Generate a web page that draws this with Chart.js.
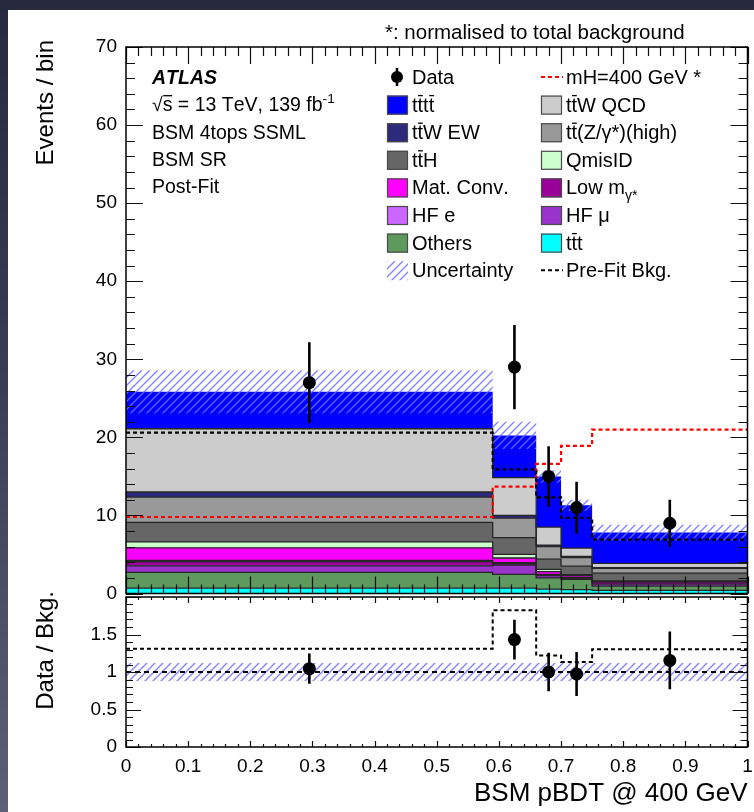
<!DOCTYPE html>
<html>
<head>
<meta charset="utf-8">
<script src="https://cdn.jsdelivr.net/npm/chart.js@4.4.1/dist/chart.umd.min.js"></script>
<style>
  html, body { margin: 0; padding: 0; width: 754px; height: 812px; overflow: hidden;
    background: linear-gradient(180deg, #272a3e 0%, #393c52 45%, #5e6175 100%); }
  #sheet { position: absolute; left: 8px; top: 10px; width: 746px; height: 802px; background: #fff; }
  canvas { position: absolute; left: 0; }
  #main { top: 0; }
  #ratio { top: 570px; }
</style>
</head>
<body>
<div id="sheet"></div>
<canvas id="main" width="754" height="600"></canvas>
<canvas id="ratio" width="754" height="242"></canvas>
<script>
// ---- binning and observed events ----
const binEdges = [0, 0.59, 0.66, 0.70, 0.75, 1.0];
const dataCounts = [27, 29, 15, 11, 9];

// ---- post-fit background components (bottom of the stack first) ----
const tttBkg    = [0.7, 0.7, 0.55, 0.5, 0.4];
const othersBkg = [2.0, 1.75, 1.45, 1.3, 0.55];
const hfMuBkg   = [0.85, 1.2, 0.3, 0.15, 0.25];
const lowMgBkg  = [0.55, 0.2, 0.1, 0.05, 0.3];
const hfEBkg    = [0.15, 0.1, 0.05, 0.05, 0.02];
const matConv   = [1.6, 0.6, 0.35, 0.25, 0.05];
const qmisID    = [0.75, 0.45, 0.3, 0.1, 0.05];
const ttHBkg    = [2.5, 2.15, 1.3, 1.1, 1.0];
const ttZBkg    = [3.25, 2.5, 1.6, 1.1, 0.6];
const ttWEW     = [0.65, 0.35, 0.2, 0.15, 0.1];
const ttWQCD    = [8.1, 4.85, 2.3, 1.05, 0.55];
const ttttBkg   = [4.75, 5.4, 6.5, 5.5, 3.93];

// ---- uncertainties, pre-fit total and signal ----
const bkgUnc     = [2.75, 1.75, 0.8, 0.7, 1.0];
const ratioUnc   = [0.12, 0.12, 0.12, 0.12, 0.12];
const prefitBkg  = [20.6, 15.9, 12.3, 9.7, 6.9];
const signal400  = [9.8, 13.7, 16.6, 18.9, 21.0];

// ---- axis ranges / ticks ----
const mainYRange = [0, 70];
const ratioYRange = [0, 2];
const xRange = [0, 1];

const FONT = '"Liberation Sans", Arial, Helvetica, sans-serif';
const B = '\u0304'; // overbar marker

const stackDefs = [
  { label: 'tt' + B + 't',          values: tttBkg,    color: '#00ffff' },
  { label: 'Others',                values: othersBkg, color: '#5e995e' },
  { label: 'HF \u03bc',             values: hfMuBkg,   color: '#9933cc' },
  { label: 'Low m_{\u03b3*}',       values: lowMgBkg,  color: '#990099' },
  { label: 'HF e',                  values: hfEBkg,    color: '#cc66ff' },
  { label: 'Mat. Conv.',            values: matConv,   color: '#ff00ff' },
  { label: 'QmisID',                values: qmisID,    color: '#ccffcc' },
  { label: 'tt' + B + 'H',          values: ttHBkg,    color: '#666666' },
  { label: 'tt' + B + '(Z/\u03b3*)(high)', values: ttZBkg, color: '#999999' },
  { label: 'tt' + B + 'W EW',       values: ttWEW,     color: '#2d2a7c' },
  { label: 'tt' + B + 'W QCD',      values: ttWQCD,    color: '#cccccc' },
  { label: 'tt' + B + 'tt' + B,     values: ttttBkg,   color: '#0000ff', noEdge: true }
];

const byLabel = {};
stackDefs.forEach(d => byLabel[d.label] = d);

// legend layout: two columns of entries
const legendMid = ['Data', 'tt' + B + 'tt' + B, 'tt' + B + 'W EW', 'tt' + B + 'H', 'Mat. Conv.', 'HF e', 'Others', 'Uncertainty'];
const legendRight = ['mH=400 GeV *', 'tt' + B + 'W QCD', 'tt' + B + '(Z/\u03b3*)(high)', 'QmisID', 'Low m_{\u03b3*}', 'HF \u03bc', 'tt' + B + 't', 'Pre-Fit Bkg.'];
const infoLines = ['\u221as' + B + ' = 13 TeV, 139 fb^{-1}', 'BSM 4tops SSML', 'BSM SR', 'Post-Fit'];

// ---- helpers ----
const binCenters = dataCounts.map((_, i) => (binEdges[i] + binEdges[i + 1]) / 2);
const histPoints = vals => binEdges.map((e, i) => ({ x: e, y: vals[Math.min(i, vals.length - 1)] }));
const totalBkg = dataCounts.map((_, i) => stackDefs.reduce((s, d) => s + d.values[i], 0));

function hatchPattern() {
  const c = document.createElement('canvas');
  c.width = 8; c.height = 8;
  const g = c.getContext('2d');
  g.strokeStyle = 'rgba(110,110,255,0.85)';
  g.lineWidth = 1.4;
  g.beginPath();
  g.moveTo(0, 8); g.lineTo(8, 0);
  g.moveTo(-2, 2); g.lineTo(2, -2);
  g.moveTo(6, 10); g.lineTo(10, 6);
  g.stroke();
  return g.createPattern(c, 'repeat');
}
const HATCH = hatchPattern();

// rich text: "_{..}" subscript, "^{..}" superscript, U+0304 puts a bar over the preceding glyph
function drawRich(ctx, str, x, y, size, weight) {
  weight = weight || 'normal';
  const segs = [];
  let i = 0;
  while (i < str.length) {
    const c = str[i];
    if ((c === '^' || c === '_') && str[i + 1] === '{') {
      const end = str.indexOf('}', i);
      segs.push({ text: str.slice(i + 2, end), mode: c === '^' ? 'sup' : 'sub' });
      i = end + 1;
    } else if (c === B) {
      if (segs.length) segs[segs.length - 1].bar = true;
      i++;
    } else {
      segs.push({ text: c, mode: 'n' });
      i++;
    }
  }
  let cx = x;
  ctx.textAlign = 'left';
  ctx.textBaseline = 'alphabetic';
  for (const s of segs) {
    const fs = s.mode === 'n' ? size : size * 0.7;
    const dy = s.mode === 'sup' ? -0.42 * size : s.mode === 'sub' ? 0.28 * size : 0;
    ctx.font = `${weight} ${fs}px ${FONT}`;
    ctx.fillText(s.text, cx, y + dy);
    const w = ctx.measureText(s.text).width;
    if (s.bar) {
      ctx.save();
      ctx.lineWidth = 1.3;
      ctx.strokeStyle = ctx.fillStyle;
      ctx.beginPath();
      ctx.moveTo(cx + 0.5, y - 0.8 * size);
      ctx.lineTo(cx + w - 0.3, y - 0.8 * size);
      ctx.stroke();
      ctx.restore();
    }
    cx += w;
  }
  return cx - x;
}

// frame with inward ROOT-style ticks on all four sides
function frameTicks(chart, cfg) {
  const { ctx, chartArea: a } = chart;
  const xs = chart.scales.x, ys = chart.scales.y;
  ctx.save();
  ctx.strokeStyle = '#111';
  ctx.lineWidth = 1.2;
  ctx.beginPath();
  const nx = Math.round((xs.max - xs.min) / cfg.xStep);
  for (let k = 0; k <= nx; k++) {
    const px = Math.round(xs.getPixelForValue(xs.min + k * cfg.xStep)) + 0.5;
    const L = k % cfg.xEvery === 0 ? cfg.xMaj : cfg.xMin;
    ctx.moveTo(px, a.bottom); ctx.lineTo(px, a.bottom - L);
    ctx.moveTo(px, a.top); ctx.lineTo(px, a.top + L * cfg.topScale);
  }
  const ny = Math.round((ys.max - ys.min) / cfg.yStep);
  for (let k = 0; k <= ny; k++) {
    const py = Math.round(ys.getPixelForValue(ys.min + k * cfg.yStep)) + 0.5;
    const L = k % cfg.yEvery === 0 ? cfg.yMaj : cfg.yMin;
    ctx.moveTo(a.left, py); ctx.lineTo(a.left + L, py);
    ctx.moveTo(a.right, py); ctx.lineTo(a.right - L, py);
  }
  ctx.stroke();
  ctx.lineWidth = 1.5;
  ctx.strokeStyle = '#000';
  ctx.strokeRect(a.left, a.top, a.right - a.left, a.bottom - a.top);
  ctx.restore();
}

function errorBars(chart, dsIndex, errs) {
  const meta = chart.getDatasetMeta(dsIndex);
  const ys = chart.scales.y;
  const { ctx } = chart;
  ctx.save();
  ctx.strokeStyle = '#000';
  ctx.lineWidth = 2.6;
  ctx.beginPath();
  meta.data.forEach((pt, i) => {
    const v = chart.data.datasets[dsIndex].data[i].y;
    ctx.moveTo(pt.x, ys.getPixelForValue(v + errs[i]));
    ctx.lineTo(pt.x, ys.getPixelForValue(v - errs[i]));
  });
  ctx.stroke();
  ctx.restore();
}

function verticalTitle(ctx, text, x, yEnd, size) {
  ctx.save();
  ctx.translate(x, yEnd);
  ctx.rotate(-Math.PI / 2);
  ctx.font = `${size}px ${FONT}`;
  ctx.fillStyle = '#000';
  ctx.textAlign = 'right';
  ctx.textBaseline = 'middle';
  ctx.fillText(text, 0, 0);
  ctx.restore();
}

const tickText = v => String(Math.round(v * 10) / 10);

// ---------------- main panel ----------------
let running = [0, 0, 0, 0, 0];
const stackDatasets = stackDefs.map((d, k) => {
  running = running.map((r, i) => r + d.values[i]);
  return {
    type: 'line', label: d.label, data: histPoints(running), stepped: true,
    fill: k === 0 ? 'origin' : '-1', backgroundColor: d.color,
    borderColor: d.noEdge ? d.color : '#262626', borderWidth: d.noEdge ? 0 : 1.3,
    pointRadius: 0, order: 10
  };
});

const mainDatasets = stackDatasets.concat([
  { type: 'line', label: 'unc-low', data: histPoints(totalBkg.map((t, i) => t - bkgUnc[i])),
    stepped: true, fill: false, borderWidth: 0, pointRadius: 0, order: 5 },
  { type: 'line', label: 'Uncertainty', data: histPoints(totalBkg.map((t, i) => t + bkgUnc[i])),
    stepped: true, fill: '-1', backgroundColor: HATCH, borderWidth: 0, pointRadius: 0, order: 5 },
  { type: 'line', label: 'Pre-Fit Bkg.', data: histPoints(prefitBkg), stepped: true, fill: false,
    borderColor: '#000', borderWidth: 2.2, borderDash: [4, 3], pointRadius: 0, order: 2 },
  { type: 'line', label: 'mH=400 GeV *', data: histPoints(signal400), stepped: true, fill: false,
    borderColor: '#ff0000', borderWidth: 2.2, borderDash: [4, 3], pointRadius: 0, order: 2 },
  { type: 'scatter', label: 'Data', data: dataCounts.map((v, i) => ({ x: binCenters[i], y: v })),
    pointRadius: 6.5, pointBackgroundColor: '#000', pointBorderColor: '#000', pointBorderWidth: 0, order: 0 }
]);
const dataIdx = mainDatasets.length - 1;

const mainDecor = {
  id: 'mainDecor',
  afterDatasetsDraw(chart) {
    errorBars(chart, dataIdx, dataCounts.map(Math.sqrt));
    frameTicks(chart, { xStep: 0.02, xEvery: 5, xMaj: 17, xMin: 9, topScale: 1,
                        yStep: 2, yEvery: 5, yMaj: 17, yMin: 9 });
  },
  afterDraw(chart) {
    const { ctx } = chart;
    ctx.save();
    ctx.fillStyle = '#000';
    verticalTitle(ctx, 'Events / bin', 46, 40, 24);
    ctx.fillStyle = '#000';
    drawRich(ctx, '*: normalised to total background', 385, 39, 20.5);

    // experiment label block
    const rowY = k => 84 + k * 27.3;
    ctx.fillStyle = '#000';
    drawRich(ctx, 'ATLAS', 152, rowY(0), 19.5, 'italic bold');
    infoLines.forEach((t, k) => drawRich(ctx, t, 152, rowY(k + 1), 19.5));

    const lrow = k => 77 + k * 27.6;
    const drawEntry = (label, boxX, k) => {
      const cy = lrow(k);
      const textX = boxX + 25;
      if (label === 'Data') {
        ctx.fillStyle = '#000';
        ctx.beginPath(); ctx.arc(boxX + 10, cy, 6, 0, Math.PI * 2); ctx.fill();
        ctx.lineWidth = 2.5; ctx.strokeStyle = '#000';
        ctx.beginPath(); ctx.moveTo(boxX + 10, cy - 9); ctx.lineTo(boxX + 10, cy + 9); ctx.stroke();
      } else if (label === 'Uncertainty') {
        ctx.fillStyle = HATCH;
        ctx.fillRect(boxX, cy - 9, 21, 19);
      } else if (label === 'mH=400 GeV *' || label === 'Pre-Fit Bkg.') {
        ctx.save();
        ctx.strokeStyle = label === 'Pre-Fit Bkg.' ? '#000' : '#ff0000';
        ctx.lineWidth = 2; ctx.setLineDash([4, 3]);
        ctx.beginPath(); ctx.moveTo(boxX, cy); ctx.lineTo(boxX + 22, cy); ctx.stroke();
        ctx.restore();
      } else {
        const d = byLabel[label];
        ctx.fillStyle = d.color;
        ctx.fillRect(boxX, cy - 9, 21, 19);
        ctx.lineWidth = 1.2; ctx.strokeStyle = '#4a4a4a';
        ctx.strokeRect(boxX + 0.5, cy - 8.5, 20, 18);
      }
      ctx.fillStyle = '#000';
      drawRich(ctx, label, textX, cy + 7, 20);
    };
    legendMid.forEach((l, k) => drawEntry(l, 387, k));
    legendRight.forEach((l, k) => drawEntry(l, 541, k));
    ctx.restore();
  }
};

new Chart(document.getElementById('main'), {
  type: 'line',
  data: { datasets: mainDatasets },
  options: {
    responsive: false, animation: false, devicePixelRatio: 1,
    layout: { padding: { top: 47, right: 1, bottom: 4, left: 0 } },
    plugins: { legend: { display: false }, tooltip: { enabled: false },
               filler: { drawTime: 'beforeDatasetsDraw' } },
    scales: {
      x: { type: 'linear', min: xRange[0], max: xRange[1], display: false },
      y: { type: 'linear', min: mainYRange[0], max: mainYRange[1],
           ticks: { stepSize: 10, color: '#000', padding: 9, font: { family: FONT, size: 19 } },
           grid: { display: false, drawTicks: false }, border: { display: false },
           afterFit(s) { s.width = 126; s.paddingTop = 0; s.paddingBottom = 0; } }
    }
  },
  plugins: [mainDecor]
});

// ---------------- ratio panel ----------------
const dataRatio = dataCounts.map((v, i) => v / totalBkg[i]);
const dataRatioErr = dataCounts.map((v, i) => Math.sqrt(v) / totalBkg[i]);
const prefitRatio = dataCounts.map((v, i) => v / prefitBkg[i]);

const ratioDatasets = [
  { type: 'line', label: 'band-low', data: histPoints(ratioUnc.map(u => 1 - u)), stepped: true,
    fill: false, borderWidth: 0, pointRadius: 0, order: 5 },
  { type: 'line', label: 'band-high', data: histPoints(ratioUnc.map(u => 1 + u)), stepped: true,
    fill: '-1', backgroundColor: HATCH, borderWidth: 0, pointRadius: 0, order: 5 },
  { type: 'line', label: 'unity', data: [{ x: xRange[0], y: 1 }, { x: xRange[1], y: 1 }], fill: false,
    borderColor: '#000', borderWidth: 2, borderDash: [5, 4], pointRadius: 0, order: 2 },
  { type: 'line', label: 'data/prefit', data: histPoints(prefitRatio), stepped: true, fill: false,
    borderColor: '#000', borderWidth: 2, borderDash: [4, 3], pointRadius: 0, order: 2 },
  { type: 'scatter', label: 'Data', data: dataRatio.map((v, i) => ({ x: binCenters[i], y: v })),
    pointRadius: 6.5, pointBackgroundColor: '#000', pointBorderWidth: 0, order: 0 }
];
const ratioDataIdx = ratioDatasets.length - 1;

const ratioDecor = {
  id: 'ratioDecor',
  afterDatasetsDraw(chart) {
    errorBars(chart, ratioDataIdx, dataRatioErr);
    frameTicks(chart, { xStep: 0.02, xEvery: 5, xMaj: 6, xMin: 3, topScale: 1,
                        yStep: 0.1, yEvery: 5, yMaj: 15, yMin: 7 });
  },
  afterDraw(chart) {
    verticalTitle(chart.ctx, 'Data / Bkg.', 46, 21, 24);
  }
};

new Chart(document.getElementById('ratio'), {
  type: 'line',
  data: { datasets: ratioDatasets },
  options: {
    responsive: false, animation: false, devicePixelRatio: 1,
    layout: { padding: { top: 27, right: 1, bottom: 0, left: 0 } },
    plugins: { legend: { display: false }, tooltip: { enabled: false },
               filler: { drawTime: 'beforeDatasetsDraw' } },
    scales: {
      x: { type: 'linear', min: xRange[0], max: xRange[1],
           ticks: { stepSize: 0.1, color: '#000', padding: 8, maxRotation: 0, autoSkip: false,
                    font: { family: FONT, size: 19 }, callback: v => tickText(v) },
           grid: { display: false, drawTicks: false }, border: { display: false },
           title: { display: true, text: 'BSM pBDT @ 400 GeV', align: 'end', color: '#000',
                    font: { family: FONT, size: 26 }, padding: { top: 0, bottom: 3 } },
           afterFit(s) { s.height = 65; s.paddingLeft = 0; s.paddingRight = 0; } },
      y: { type: 'linear', min: ratioYRange[0], max: ratioYRange[1],
           ticks: { stepSize: 0.5, color: '#000', padding: 9, font: { family: FONT, size: 19 },
                    callback: v => (v >= ratioYRange[1] ? '' : String(v)) },
           grid: { display: false, drawTicks: false }, border: { display: false },
           afterFit(s) { s.width = 126; s.paddingTop = 0; s.paddingBottom = 0; } }
    }
  },
  plugins: [ratioDecor]
});
</script>
</body>
</html>
